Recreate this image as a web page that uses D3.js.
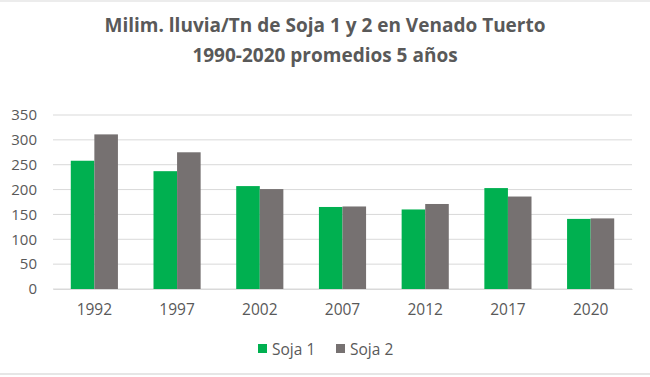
<!DOCTYPE html>
<html>
<head>
<meta charset="utf-8">
<script src="https://cdn.jsdelivr.net/npm/d3@7"></script>
<style>
  body { margin: 0; background: #fff; }
  svg { display: block; font-family: "Open Sans", Lato, sans-serif; }
</style>
</head>
<body>
<svg id="chart"></svg>
<script>
const years = ['1992', '1997', '2002', '2007', '2012', '2017', '2020']
const soja1 = [258, 237, 207, 165, 160, 203, 141]
const soja2 = [311, 275, 201, 166, 171, 186, 142]
const seriesNames = ['Soja 1', 'Soja 2']
const yTicks = [0, 50, 100, 150, 200, 250, 300, 350]
const titleLines = ['Milim. lluvia/Tn de Soja 1 y 2 en Venado Tuerto', '1990-2020 promedios 5 años']

const WIDTH = 650
const HEIGHT = 377
const MARGINS = {top: 115, right: 18, bottom: 88, left: 53}
const COLORS = ['#00b050', '#767171']
const TEXT = '#595959'

const svg = d3.select('#chart')
	.attr('width', WIDTH)
	.attr('height', HEIGHT)

const innerW = WIDTH - MARGINS.left - MARGINS.right
const innerH = HEIGHT - MARGINS.top - MARGINS.bottom

// Title
svg.append('g')
	.selectAll('text')
	.data(titleLines)
	.join('text')
	.attr('x', WIDTH / 2)
	.attr('y', (d, i) => 32 + i * 30)
	.attr('text-anchor', 'middle')
	.attr('font-size', 19)
	.attr('font-weight', 'bold')
	.attr('fill', TEXT)
	.text(d => d)

const g = svg.append('g')
	.attr('transform', `translate(${MARGINS.left}, ${MARGINS.top})`)

const x = d3.scaleBand()
	.domain(years)
	.range([0, innerW])
	.paddingInner(0.43)
	.paddingOuter(0.215)

const xSub = d3.scaleBand()
	.domain(seriesNames)
	.range([0, x.bandwidth()])

const y = d3.scaleLinear()
	.domain([0, 350])
	.range([innerH, 0])

// Gridlines
g.append('g')
	.selectAll('line')
	.data(yTicks)
	.join('line')
	.attr('x1', 0)
	.attr('x2', innerW)
	.attr('y1', d => y(d))
	.attr('y2', d => y(d))
	.attr('stroke', '#d9d9d9')
	.attr('stroke-width', 1)

// Y axis labels
const yAxis = g.append('g')
	.attr('transform', 'translate(-16, 0)')
	.call(d3.axisLeft(y).tickValues(yTicks).tickSize(0).tickPadding(0))
yAxis.select('.domain').remove()
yAxis.selectAll('text')
	.attr('font-size', 15)
	.attr('font-family', '"Open Sans", sans-serif')
	.attr('fill', TEXT)

// Bars
const rows = years.map((yr, i) => ({year: yr, values: [soja1[i], soja2[i]]}))
g.append('g')
	.selectAll('g')
	.data(rows)
	.join('g')
	.attr('transform', d => `translate(${x(d.year)}, 0)`)
	.selectAll('rect')
	.data(d => d.values.map((v, j) => ({name: seriesNames[j], value: v, idx: j})))
	.join('rect')
	.attr('x', d => xSub(d.name))
	.attr('width', xSub.bandwidth())
	.attr('y', d => y(d.value))
	.attr('height', d => innerH - y(d.value))
	.attr('fill', d => COLORS[d.idx])

// X axis
const xAxis = g.append('g')
	.attr('transform', `translate(0, ${innerH})`)
	.call(d3.axisBottom(x).tickSize(0).tickPadding(15))
xAxis.select('.domain').attr('stroke', '#d9d9d9')
xAxis.selectAll('text')
	.attr('font-size', 15.5)
	.attr('font-family', '"Open Sans", sans-serif')
	.attr('fill', TEXT)

// Legend
const legend = svg.append('g')
	.attr('transform', 'translate(258, 350)')
const legendX = [0, 78]
const item = legend.selectAll('g')
	.data(seriesNames)
	.join('g')
	.attr('transform', (d, i) => `translate(${legendX[i]}, 0)`)
item.append('rect')
	.attr('x', 0)
	.attr('y', -6)
	.attr('width', 9)
	.attr('height', 9)
	.attr('fill', (d, i) => COLORS[i])
item.append('text')
	.attr('x', 14)
	.attr('y', 5)
	.attr('font-size', 15.5)
	.attr('fill', TEXT)
	.text(d => d)

// thin frame lines at top and bottom like the source image
svg.append('line')
	.attr('x1', 0).attr('x2', WIDTH)
	.attr('y1', 1).attr('y2', 1)
	.attr('stroke', '#ececec')
	.attr('stroke-width', 2)
svg.append('line')
	.attr('x1', 0).attr('x2', WIDTH)
	.attr('y1', HEIGHT - 3).attr('y2', HEIGHT - 3)
	.attr('stroke', '#e6e6e6')
	.attr('stroke-width', 2)
</script>
</body>
</html>
